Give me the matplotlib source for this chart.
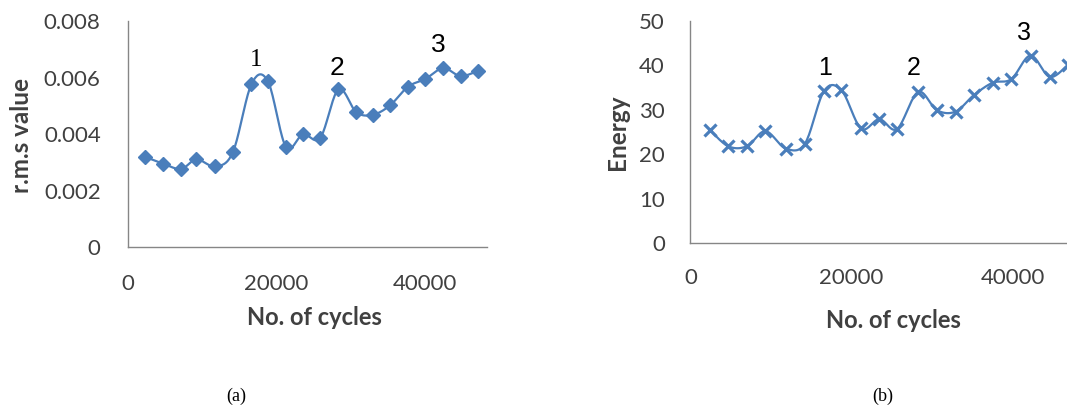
import numpy as np
import matplotlib.pyplot as plt

cycles_a = [2320, 4770, 7180, 9260, 11800, 14170, 16670, 18890, 21300, 23610,
            25930, 28380, 30790, 33010, 35320, 37730, 40090, 42500, 44820, 47130]
rms = [0.00320, 0.00296, 0.00277, 0.00311, 0.00286, 0.00337, 0.00578, 0.00587,
       0.00356, 0.00400, 0.00387, 0.00559, 0.00478, 0.00469, 0.00502, 0.00568,
       0.00596, 0.00634, 0.00606, 0.00624]

cycles_b = [2390, 4700, 7010, 9310, 11830, 14220, 16580, 18760, 21190, 23460,
            25670, 28270, 30620, 32930, 35200, 37550, 39850, 42240, 44630, 46860]
energy = [25.5, 21.8, 21.8, 25.2, 21.3, 22.4, 34.2, 34.4, 25.8, 27.9,
          25.7, 34.0, 29.9, 29.6, 33.3, 36.1, 36.9, 42.2, 37.4, 40.1]

blue = '#4a7ebb'
grey = '#868686'
txt = '#404040'
plt.rcParams['font.family'] = ['Lato', 'DejaVu Sans']


def smooth(x, y, n=20):
    # excel style smoothed line (catmull-rom through the points)
    x = np.asarray(x, float)
    y = np.asarray(y, float)
    px = np.concatenate([[x[0]], x, [x[-1]]])
    py = np.concatenate([[y[0]], y, [y[-1]]])
    t = np.linspace(0, 1, n)[:, None]
    xs, ys = [], []
    for i in range(1, len(px) - 2):
        for p, out in ((px, xs), (py, ys)):
            p0, p1, p2, p3 = p[i - 1], p[i], p[i + 1], p[i + 2]
            c = 0.5 * ((2 * p1) + (-p0 + p2) * t + (2 * p0 - 5 * p1 + 4 * p2 - p3) * t ** 2
                       + (-p0 + 3 * p1 - 3 * p2 + p3) * t ** 3)
            out.append(c.ravel())
    return np.concatenate(xs), np.concatenate(ys)


def style(ax, ypad, xpad):
    for s in ['top', 'right']:
        ax.spines[s].set_visible(False)
    for s in ['left', 'bottom']:
        ax.spines[s].set_color(grey)
        ax.spines[s].set_linewidth(1)
    ax.tick_params(axis='y', length=0, pad=ypad, labelsize=16, labelcolor=txt)
    ax.tick_params(axis='x', length=0, pad=xpad, labelsize=16, labelcolor=txt)
    ax.set_xticks([0, 20000, 40000])
    ax.set_xlim(0, 48400)


fig = plt.figure(figsize=(10.67, 4.08), dpi=100)

# (a) rms
ax1 = fig.add_axes([0.1197, 0.3941, 0.3368, 0.5537])
sx, sy = smooth(cycles_a, rms)
ax1.plot(sx, sy, color=blue, lw=1.6)
ax1.plot(cycles_a, rms, ls='none', marker='D', ms=7.5, color=blue)
style(ax1, 19.5, 19.5)
ax1.set_ylim(0, 0.008)
ax1.set_yticks([0, 0.002, 0.004, 0.006, 0.008])
ax1.set_yticklabels(['0', '0.002', '0.004', '0.006', '0.008'])
ax1.set_xlabel('No. of cycles', fontsize=17, fontweight='bold', color=txt, va='baseline')
ax1.xaxis.set_label_coords(0.52, -0.344)
ax1.set_ylabel('r.m.s value', fontsize=17.5, fontweight='bold', color=txt, va='baseline')
ax1.yaxis.set_label_coords(-0.274, 0.494)
ax1.text(17240, 0.00663, '1', fontsize=18, family='Liberation Serif', ha='center', va='center')
ax1.text(28150, 0.00635, '2', fontsize=19, family='Liberation Sans', ha='center', va='center')
ax1.text(41830, 0.00716, '3', fontsize=19, family='Liberation Sans', ha='center', va='center')

# (b) energy
ax2 = fig.add_axes([0.6471, 0.4039, 0.3652, 0.5449])
sx, sy = smooth(cycles_b, energy)
ax2.plot(sx, sy, color=blue, lw=1.6)
ax2.plot(cycles_b, energy, ls='none', marker='x', ms=9, mew=2.3, color=blue)
style(ax2, 18.4, 18)
ax2.set_ylim(0, 50)
ax2.set_yticks([0, 10, 20, 30, 40, 50])
ax2.set_xlabel('No. of cycles', fontsize=17, fontweight='bold', color=txt, va='baseline')
ax2.xaxis.set_label_coords(0.52, -0.38)
ax2.set_ylabel('Energy', fontsize=17.5, fontweight='bold', color=txt, va='baseline')
ax2.yaxis.set_label_coords(-0.168, 0.497)
ax2.text(16710, 39.5, '1', fontsize=18, family='Liberation Sans', ha='center', va='center')
ax2.text(27780, 39.5, '2', fontsize=18, family='Liberation Sans', ha='center', va='center')
ax2.text(41380, 47.3, '3', fontsize=18, family='Liberation Sans', ha='center', va='center')

fig.text(236 / 1067, 1 - 396 / 408, '(a)', fontsize=13, family='Liberation Serif', ha='center', va='center')
fig.text(883 / 1067, 1 - 396 / 408, '(b)', fontsize=13, family='Liberation Serif', ha='center', va='center')

fig.savefig('out.png', dpi=100)
